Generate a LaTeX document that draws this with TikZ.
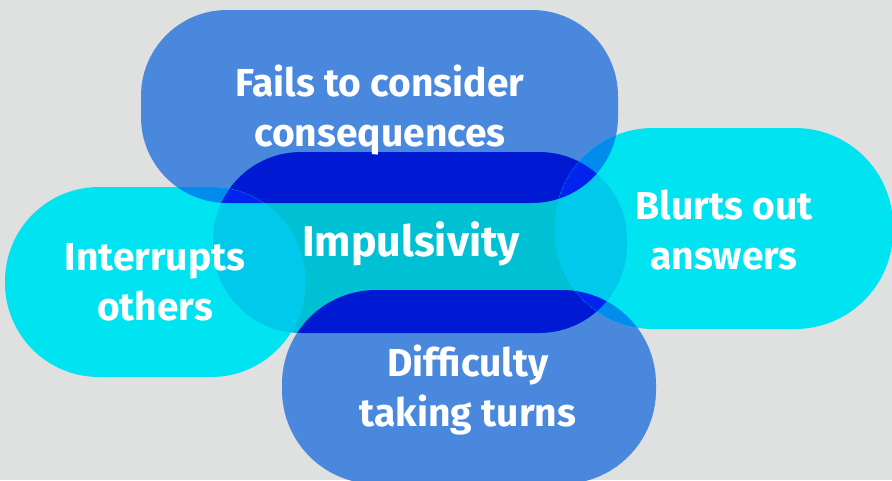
\documentclass[tikz,border=0pt]{standalone}
\usepackage{fontspec}
\setmainfont{Fira Sans}
\begin{document}
\begin{tikzpicture}[x=1pt,y=-1pt,
  shT/.style={rounded corners=86pt, insert path={(141,10) rectangle (618,203)}},
  shC/.style={rounded corners=88pt, insert path={(213,152) rectangle (627,333)}},
  shL/.style={rounded corners=94pt, insert path={(5,187) rectangle (305,377)}},
  shR/.style={rounded corners=98pt, insert path={(555,128) rectangle (893,329)}},
  shB/.style={rounded corners=94pt, insert path={(282,290) rectangle (656,484)}},
  lbl/.style={text=white, font=\fontsize{39}{50}\selectfont\bfseries, align=center, inner sep=0pt},
  biglbl/.style={lbl, font=\fontsize{43}{50}\selectfont\bfseries}
]
\definecolor{bgc}{HTML}{DFE0E0}
\definecolor{cblue}{HTML}{4A88DE}
\definecolor{cdark}{HTML}{0019D3}
\definecolor{cteal}{HTML}{00C1D3}
\definecolor{ccyan}{HTML}{00E3F1}
\definecolor{ccb}{HTML}{008CEC}
\definecolor{cct}{HTML}{00C9EC}
\definecolor{ccd}{HTML}{0024EE}
\useasboundingbox (0,0) rectangle (892,480);
\fill[bgc] (0,0) rectangle (892,480);
\fill[cblue, shT];
\fill[cblue, shB];
\fill[cteal, shC];
\begin{scope}
  \clip[shC];
  \fill[cdark, shT];
  \fill[cdark, shB];
\end{scope}
\fill[ccyan, shL];
\fill[ccyan, shR];
\begin{scope}
  \clip[shL];
  \fill[ccb, shT];
  \fill[ccb, shB];
  \fill[cct, shC];
  \begin{scope}\clip[shC]; \fill[ccd, shT]; \fill[ccd, shB];\end{scope}
\end{scope}
\begin{scope}
  \clip[shR];
  \fill[ccb, shT];
  \fill[ccb, shB];
  \fill[cct, shC];
  \begin{scope}\clip[shC]; \fill[ccd, shT]; \fill[ccd, shB];\end{scope}
\end{scope}
\node[lbl] (fails) at (380,110) {Fails to consider\\consequences};
\node[biglbl] (imp) at (411,244) {Impulsivity};
\node[lbl] (intr) at (155,282) {Interrupts\\others};
\node[lbl] (blurt) at (724,230) {Blurts out\\answers};
\node[lbl] (diff) at (468,390) {Difficulty\\taking turns};
\end{tikzpicture}
\end{document}
